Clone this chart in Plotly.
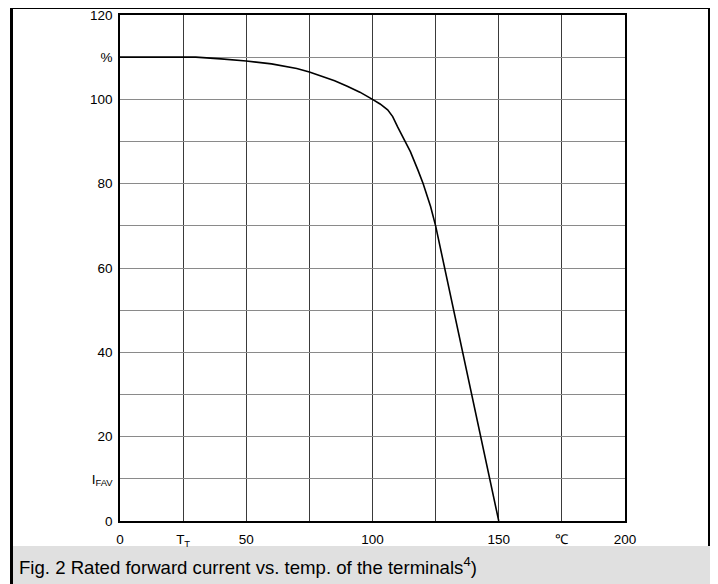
import plotly.graph_objects as go

# Data
temp_c = [0, 10, 20, 25, 30, 40, 50, 60, 70, 75, 80, 85, 90, 95, 100, 103, 106, 108, 110, 113, 115, 118, 120, 123, 125, 150]
ifav_pct = [110, 110, 110, 110.1, 110, 109.6, 109.1, 108.4, 107.3, 106.5, 105.5, 104.4, 103.1, 101.7, 100, 98.9, 97.5, 95.9, 93.4, 90.1, 87.6, 83.2, 80.1, 74.6, 70, 0]

x_tickvals = [0, 25, 50, 75, 100, 125, 150, 175, 200]
x_ticktext = ["0", "T<sub>T</sub>", "50", "", "100", "", "150", "℃", "200"]
y_tickvals = [0, 10, 20, 30, 40, 50, 60, 70, 80, 90, 100, 110, 120]
y_ticktext = ["0", "I<sub>FAV</sub>", "20", "", "40", "", "60", "", "80", "", "100", "%", "120"]
caption = "Fig. 2 Rated forward current vs. temp. of the terminals<sup>4</sup>)"

OFF = 8  # page body margin
W, H = 718 - OFF, 584 - OFF
L, R, T, B = 120 - OFF, 625 - OFF, 15 - OFF, 521 - OFF  # plot area in px (figure coords)


def px_x(x):
    return (x - OFF - L) / (R - L)


def px_y(y):
    return (B - (y - OFF)) / (B - T)


font = "Liberation Sans, Arial, Helvetica, sans-serif"
FS = 13.5

fig = go.Figure()
fig.add_trace(go.Scatter(x=temp_c, y=ifav_pct, mode="lines",
                         line=dict(color="black", width=1.6), hoverinfo="skip",
                         showlegend=False))

fig.update_layout(
    width=W, height=H,
    margin=dict(l=L, r=W - R, t=T, b=H - B, autoexpand=False),
    paper_bgcolor="white", plot_bgcolor="white",
    font=dict(family=font, size=FS, color="black"),
    showlegend=False,
)
fig.update_xaxes(range=[0, 200], tickvals=x_tickvals, ticktext=x_ticktext,
                 showgrid=True, gridcolor="#3a3a3a", gridwidth=1,
                 showline=True, linecolor="black", linewidth=1.5, mirror=True,
                 zeroline=False, ticks="", ticklabelstandoff=5,
                 ticklabeloverflow="allow",
                 tickfont=dict(size=FS, family=font))
fig.update_yaxes(range=[0, 120], tickvals=y_tickvals, ticktext=y_ticktext,
                 showgrid=True, gridcolor="#8a8a8a", gridwidth=1.4,
                 showline=True, linecolor="black", linewidth=1.5, mirror=True,
                 zeroline=False, ticks="", ticklabelstandoff=3,
                 ticklabeloverflow="allow",
                 tickfont=dict(size=FS, family=font))

# outer frame
fig.add_shape(type="rect", xref="paper", yref="paper",
              x0=px_x(11.5), x1=px_x(709.5), y0=px_y(600), y1=px_y(7.5),
              line=dict(color="black", width=3), fillcolor="rgba(0,0,0,0)", layer="below")
# caption band
fig.add_shape(type="rect", xref="paper", yref="paper",
              x0=px_x(13), x1=px_x(711), y0=px_y(600), y1=px_y(546),
              line=dict(width=0), fillcolor="#e0e0e0", layer="below")
fig.add_annotation(xref="paper", yref="paper", x=px_x(17), y=px_y(566),
                   xanchor="left", yanchor="middle", showarrow=False,
                   text=caption, font=dict(size=18.6, family=font, color="black"))

fig.write_html("out.html")
